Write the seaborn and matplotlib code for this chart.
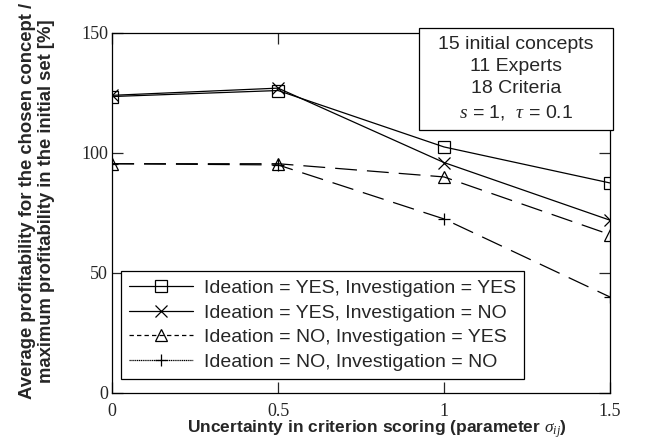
import pandas as pd
import matplotlib
matplotlib.use("Agg")
import matplotlib.pyplot as plt
from matplotlib.lines import Line2D
from matplotlib.patches import Rectangle
import seaborn as sns

# Values
sigma = [0, 0.5, 1, 1.5]
yes_yes = [123.5, 126, 102.5, 87.5]
yes_no = [124, 127, 96, 72]
no_yes = [95.5, 95.5, 90, 66]
no_no = [95.5, 95, 72.5, 40]

labels = [
    "Ideation = YES, Investigation = YES",
    "Ideation = YES, Investigation = NO",
    "Ideation = NO, Investigation = YES",
    "Ideation = NO, Investigation = NO",
]
series = [yes_yes, yes_no, no_yes, no_no]
markers = ["s", "x", "^", "+"]
plot_dashes = ["-", "-", (0, (17.5, 8)), (0, (17.5, 8))]
legend_dashes = ["-", "-", (0, (3.5, 2.5)), (0, (1, 0.5))]

sns.set_style("white")
plt.rcParams["font.family"] = ["Liberation Sans", "DejaVu Sans"]
plt.rcParams["mathtext.fontset"] = "custom"
plt.rcParams["mathtext.it"] = "Liberation Serif:italic"
plt.rcParams["mathtext.rm"] = "Liberation Serif"

fig = plt.figure(figsize=(6.6, 4.45), dpi=100)
ax = fig.add_axes([0.170, 0.117, 0.754, 0.809])

for vals, lab, mk, ls in zip(series, labels, markers, plot_dashes):
    df = pd.DataFrame({"sigma": sigma, "value": vals})
    sns.lineplot(data=df, x="sigma", y="value", ax=ax, color="black",
                 linewidth=0.9, linestyle=ls, marker=mk, markersize=8.8,
                 markerfacecolor="none", markeredgecolor="black",
                 markeredgewidth=0.9, legend=False)

ax.set_xlim(0, 1.5)
ax.set_ylim(0, 150)
ax.set_xticks([0, 0.5, 1, 1.5])
ax.set_xticklabels(["0", "0.5", "1", "1.5"])
ax.set_yticks([0, 50, 100, 150])
for lbl in ax.get_xticklabels() + ax.get_yticklabels():
    lbl.set_fontfamily("Liberation Serif")
    lbl.set_fontsize(13)
ax.tick_params(direction="in", length=8, width=0.9, top=True, right=True,
               left=True, bottom=True)
ax.tick_params(axis="x", pad=7)
ax.tick_params(axis="y", pad=3)
for sp in ax.spines.values():
    sp.set_color("black")
    sp.set_linewidth(0.9)

ax.set_xlabel(r"Uncertainty in criterion scoring (parameter $\sigma_{ij}$)",
              fontsize=12.5, fontweight="bold")
ax.xaxis.set_label_coords(0.532, -0.072)
ax.set_ylabel("Average profitability for the chosen concept /\n"
              "maximum profitability in the initial set [%]",
              fontsize=13.3, fontweight="bold", linespacing=1.2)
ax.yaxis.set_label_coords(-0.114, 0.533)

handles = [Line2D([0], [0], color="black", linewidth=0.9, linestyle=ls,
                  marker=mk, markersize=8.8, markerfacecolor="none",
                  markeredgecolor="black", markeredgewidth=0.9)
           for mk, ls in zip(markers, legend_dashes)]
leg = ax.legend(handles, labels, loc="lower left",
                bbox_to_anchor=(0.018, 0.039), borderaxespad=0,
                fontsize=14, handlelength=3.25, handletextpad=0.6,
                labelspacing=0.36, borderpad=0.42, fancybox=False,
                framealpha=1, edgecolor="black")
leg.get_frame().set_linewidth(0.9)

# info box in the top right corner
ax.add_patch(Rectangle((0.616, 0.731), 0.390, 0.283, transform=ax.transAxes,
                       facecolor="white", edgecolor="black", linewidth=0.9,
                       clip_on=False, zorder=9))
ax.text(0.811, 0.872,
        "15 initial concepts\n11 Experts\n18 Criteria\n"
        r"$s$ = 1,  $\tau$ = 0.1",
        transform=ax.transAxes, ha="center", va="center", fontsize=14,
        linespacing=1.38, zorder=10, clip_on=False)

plt.savefig("out.png", dpi=100)
